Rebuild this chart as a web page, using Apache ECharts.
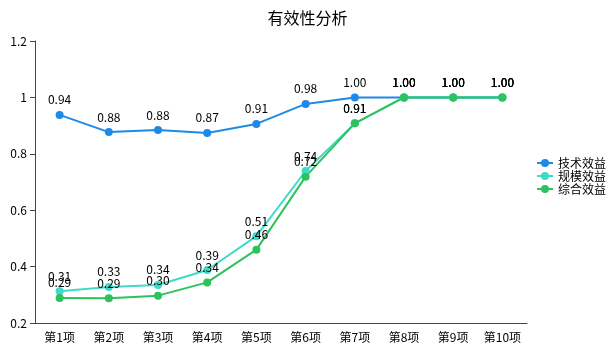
<!doctype html>
<html lang="zh">
  <head>
    <meta charset="UTF-8" />
    <title>有效性分析</title>
    <script src="https://fastly.jsdelivr.net/npm/echarts@6/dist/echarts.min.js"></script>
    <style>
      * { margin: 0; padding: 0; }
      html, body, #main { width: 100%; height: 100%; overflow: hidden; background: #fff; }
    </style>
  </head>
  <body>
    <div id="main"></div>
    <script>
      const categories = ['第1项', '第2项', '第3项', '第4项', '第5项', '第6项', '第7项', '第8项', '第9项', '第10项'];
      const techValues = [0.938, 0.877, 0.884, 0.874, 0.906, 0.977, 1.0, 1.0, 1.0, 1.0];
      const scaleValues = [0.313, 0.328, 0.335, 0.388, 0.508, 0.739, 0.908, 1.0, 1.0, 1.0];
      const totalValues = [0.289, 0.288, 0.297, 0.344, 0.46, 0.719, 0.908, 1.0, 1.0, 1.0];

      const font = '"Noto Sans CJK SC", "Noto Sans", sans-serif';

      function line(name, data, color) {
        return {
          name: name,
          type: 'line',
          data: data,
          symbol: 'circle',
          symbolSize: 8,
          itemStyle: { color: color },
          lineStyle: { color: color, width: 2 },
          label: {
            show: true,
            position: 'top',
            color: '#000',
            fontSize: 12,
            fontFamily: font,
            formatter: (p) => p.value.toFixed(2)
          }
        };
      }

      const chart = echarts.init(document.getElementById('main'));
      chart.setOption({
        animation: false,
        textStyle: { fontFamily: font },
        title: {
          text: '有效性分析',
          left: 'center',
          top: 5,
          textStyle: { fontSize: 16, fontWeight: 'normal', color: '#000', fontFamily: font }
        },
        legend: {
          orient: 'vertical',
          right: 4,
          top: 152,
          itemWidth: 16,
          itemHeight: 10,
          itemGap: 1,
          textStyle: { fontSize: 12, color: '#000' },
          data: ['技术效益', '规模效益', '综合效益']
        },
        grid: { left: 35, right: 88, top: 41, bottom: 29 },
        xAxis: {
          type: 'category',
          data: categories,
          axisLine: { lineStyle: { color: '#444' } },
          axisTick: { show: false },
          axisLabel: { color: '#000', fontSize: 12 }
        },
        yAxis: {
          type: 'value',
          min: 0.2,
          max: 1.2,
          interval: 0.2,
          splitLine: { show: false },
          axisLine: { show: true, lineStyle: { color: '#444' } },
          axisTick: { show: true },
          axisLabel: { color: '#000', fontSize: 12 }
        },
        series: [
          line('技术效益', techValues, '#1e8ae8'),
          line('规模效益', scaleValues, '#3ddbc8'),
          line('综合效益', totalValues, '#2ec25c')
        ]
      });
    </script>
  </body>
</html>
